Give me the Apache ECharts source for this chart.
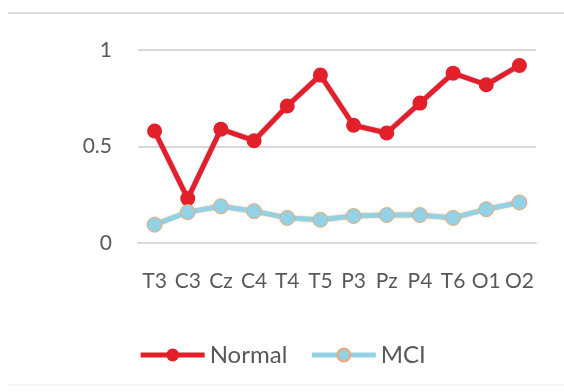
<!DOCTYPE html>
<html>
<head>
<meta charset="utf-8">
<script src="https://cdn.jsdelivr.net/npm/echarts@6/dist/echarts.min.js"></script>
<style>
  html, body { margin: 0; padding: 0; background: #fff; }
  #chart { width: 564px; height: 392px; }
</style>
</head>
<body>
<div id="chart"></div>
<script>
// electrode channels
const channels = ['T3', 'C3', 'Cz', 'C4', 'T4', 'T5', 'P3', 'Pz', 'P4', 'T6', 'O1', 'O2'];
const normalValues = [0.58, 0.23, 0.59, 0.53, 0.71, 0.87, 0.61, 0.57, 0.725, 0.88, 0.82, 0.92];
const mciValues = [0.095, 0.16, 0.19, 0.165, 0.13, 0.12, 0.14, 0.145, 0.145, 0.13, 0.175, 0.21];
const yTicks = [0, 0.5, 1];

const labelColor = '#595959';
const gridColor = '#d9d9d9';
const font = 'Lato, "Liberation Sans", sans-serif';

const chart = echarts.init(document.getElementById('chart'), null, { renderer: 'canvas' });

chart.setOption({
    animation: false,
    backgroundColor: '#fff',
    graphic: [
        {
            type: 'rect',
            shape: { x: 8, y: 12, width: 556, height: 2 },
            style: { fill: '#dcdcdc' }
        },
        {
            type: 'rect',
            shape: { x: 8, y: 384, width: 556, height: 2 },
            style: { fill: '#f4f4f4' }
        }
    ],
    grid: { left: 138, right: 28, top: 50, bottom: 149 },
    legend: {
        top: 338,
        left: 'center',
        itemWidth: 64,
        itemHeight: 16,
        itemGap: 22,
        lineStyle: { width: 5 },
        textStyle: { fontFamily: font, fontSize: 24, color: labelColor }
    },
    xAxis: {
        type: 'category',
        data: channels,
        axisLine: { show: true, lineStyle: { color: gridColor, width: 2 } },
        axisTick: { show: false },
        axisLabel: {
            margin: 28,
            interval: 0,
            fontFamily: font,
            fontSize: 21,
            color: labelColor
        }
    },
    yAxis: {
        type: 'value',
        min: yTicks[0],
        max: yTicks[yTicks.length - 1],
        interval: 0.5,
        axisLine: { show: false },
        axisTick: { show: false },
        splitLine: { lineStyle: { color: gridColor, width: 2 } },
        axisLabel: {
            margin: 26,
            fontFamily: font,
            fontSize: 21,
            color: labelColor
        }
    },
    series: [
        {
            name: 'Normal',
            type: 'line',
            data: normalValues,
            symbol: 'circle',
            symbolSize: 15,
            lineStyle: { color: '#e3202a', width: 5, shadowColor: 'rgba(70,110,200,0.5)', shadowBlur: 2 },
            itemStyle: { color: '#e3202a' }
        },
        {
            name: 'MCI',
            type: 'line',
            data: mciValues,
            symbol: 'circle',
            symbolSize: 15,
            lineStyle: { color: '#93d1e4', width: 5, shadowColor: 'rgba(240,150,90,0.7)', shadowBlur: 2 },
            itemStyle: { color: '#93d1e4', borderColor: '#f0a878', borderWidth: 1 }
        }
    ]
});
</script>
</body>
</html>
